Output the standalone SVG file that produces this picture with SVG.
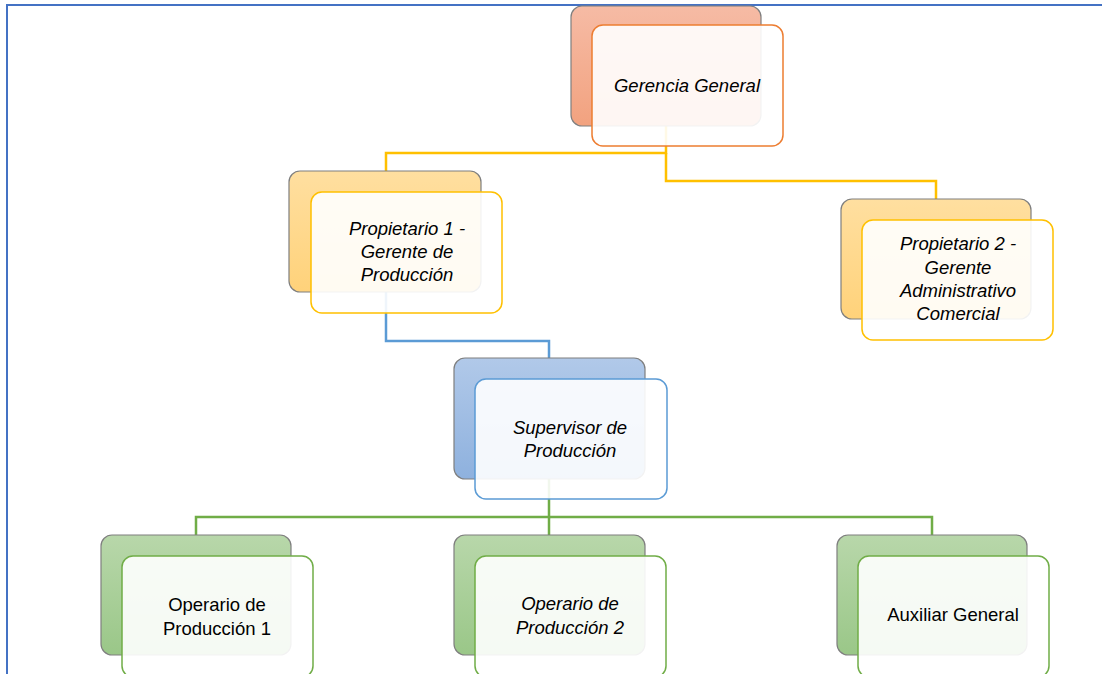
<svg xmlns="http://www.w3.org/2000/svg" width="1102" height="674" viewBox="0 0 1102 674">
<defs>
<linearGradient id="gO" x1="0" y1="0" x2="0" y2="1"><stop offset="0" stop-color="#F6BBA5"/><stop offset="1" stop-color="#F2A27F"/></linearGradient>
<linearGradient id="gY" x1="0" y1="0" x2="0" y2="1"><stop offset="0" stop-color="#FFDFA0"/><stop offset="1" stop-color="#FFD27A"/></linearGradient>
<linearGradient id="gB" x1="0" y1="0" x2="0" y2="1"><stop offset="0" stop-color="#B1C9E9"/><stop offset="1" stop-color="#8EB1DE"/></linearGradient>
<linearGradient id="gG" x1="0" y1="0" x2="0" y2="1"><stop offset="0" stop-color="#B8D7AA"/><stop offset="1" stop-color="#9AC788"/></linearGradient>
<style>
.back{stroke:#7F7F7F;stroke-width:1.2}
.front{fill:#FFFFFF;fill-opacity:0.9;stroke-width:1.5}
.t{font-family:"Liberation Sans",Arial,sans-serif;font-size:18.5px;fill:#000;text-anchor:middle}
.i{font-style:italic}
.c{fill:none;stroke-width:2.5}
</style>
</defs>
<rect width="1102" height="674" fill="#FFFFFF"/>
<path d="M7,674 V5 H1102" fill="none" stroke="#4472C4" stroke-width="2"/>
<g id="connectors">
<path class="c" stroke="#FFC000" d="M666,126 V153 H386 V171"/>
<path class="c" stroke="#FFC000" d="M666,153 V181 H936 V199"/>
<path class="c" stroke="#5B9BD5" d="M386,292 V341 H549 V358"/>
<path class="c" stroke="#70AD47" d="M549,479 V517 H196 V535"/>
<path class="c" stroke="#70AD47" d="M549,517 V535"/>
<path class="c" stroke="#70AD47" d="M549,517 H932 V535"/>
</g>
<g id="gerencia">
<rect class="back" x="571" y="6" width="190" height="120" rx="11" fill="url(#gO)"/>
<rect class="front" x="592" y="25" width="191" height="121" rx="11" stroke="#ED7D31"/>
<text class="t i" x="687" y="92">Gerencia General</text>
</g>
<g id="propietario1">
<rect class="back" x="289" y="171" width="192" height="121" rx="11" fill="url(#gY)"/>
<rect class="front" x="311" y="192" width="191" height="121" rx="11" stroke="#FFC000"/>
<text class="t i" x="407" y="235">Propietario 1 -</text>
<text class="t i" x="407" y="258">Gerente de</text>
<text class="t i" x="407" y="281">Producción</text>
</g>
<g id="propietario2">
<rect class="back" x="841" y="199" width="190" height="120" rx="11" fill="url(#gY)"/>
<rect class="front" x="862" y="220" width="191" height="120" rx="11" stroke="#FFC000"/>
<text class="t i" x="958" y="250">Propietario 2 -</text>
<text class="t i" x="958" y="274">Gerente</text>
<text class="t i" x="958" y="297">Administrativo</text>
<text class="t i" x="958" y="320">Comercial</text>
</g>
<g id="supervisor">
<rect class="back" x="454" y="358" width="191" height="121" rx="11" fill="url(#gB)"/>
<rect class="front" x="475" y="379" width="192" height="120" rx="11" stroke="#5B9BD5"/>
<text class="t i" x="570" y="434">Supervisor de</text>
<text class="t i" x="570" y="457">Producción</text>
</g>
<g id="operario1">
<rect class="back" x="101" y="535" width="190" height="120" rx="11" fill="url(#gG)"/>
<rect class="front" x="122" y="556" width="191" height="121" rx="11" stroke="#70AD47"/>
<text class="t" x="217" y="611">Operario de</text>
<text class="t" x="217" y="635">Producción 1</text>
</g>
<g id="operario2">
<rect class="back" x="454" y="535" width="191" height="120" rx="11" fill="url(#gG)"/>
<rect class="front" x="475" y="556" width="191" height="121" rx="11" stroke="#70AD47"/>
<text class="t i" x="570" y="610">Operario de</text>
<text class="t i" x="570" y="634">Producción 2</text>
</g>
<g id="auxiliar">
<rect class="back" x="837" y="535" width="190" height="120" rx="11" fill="url(#gG)"/>
<rect class="front" x="858" y="556" width="191" height="121" rx="11" stroke="#70AD47"/>
<text class="t" x="953" y="621">Auxiliar General</text>
</g>
</svg>
